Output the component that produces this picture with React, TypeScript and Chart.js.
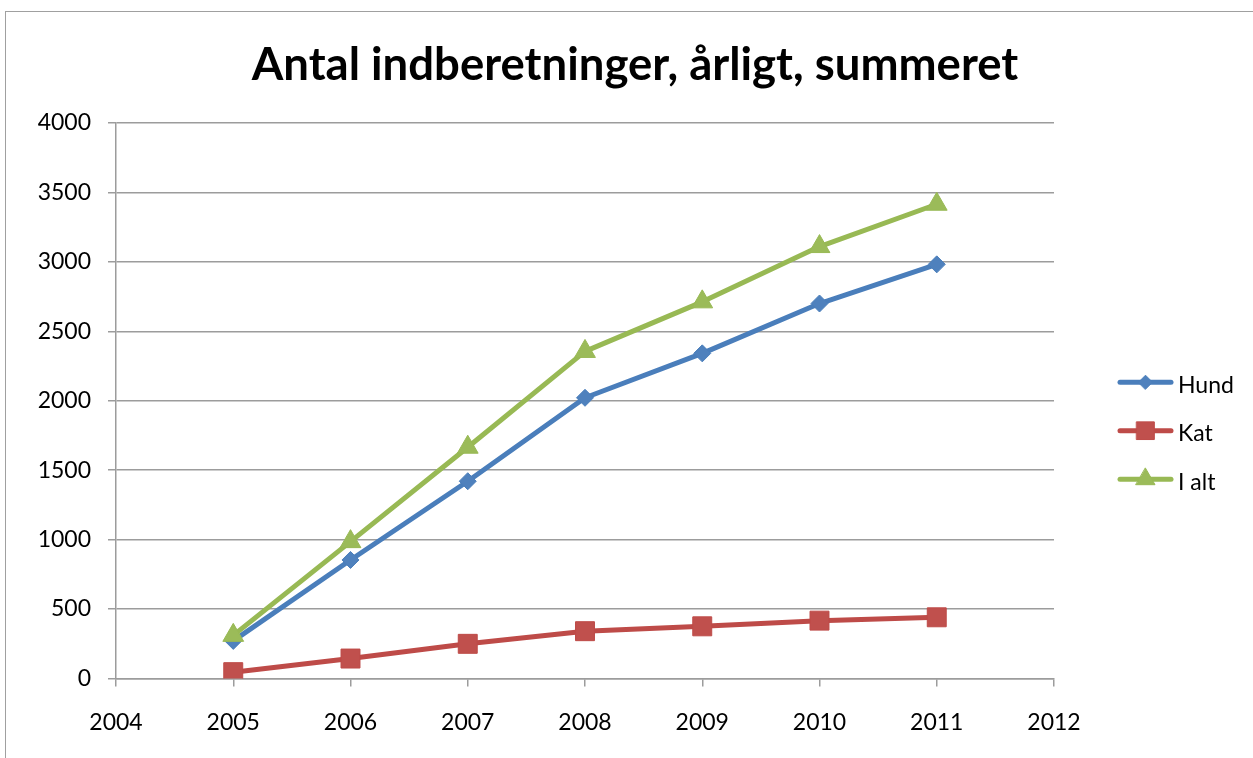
import React, { useEffect, useRef } from 'react';
import { Chart, registerables } from 'chart.js';
import { drawPoint } from 'chart.js/helpers';

Chart.register(...registerables);

const chartTitle = 'Antal indberetninger, årligt, summeret';
const years = [2005, 2006, 2007, 2008, 2009, 2010, 2011];
const hund = [270, 853, 1420, 2021, 2341, 2700, 2982];
const kat = [45, 143, 249, 340, 375, 416, 440];
const iAlt = [310, 985, 1665, 2355, 2712, 3110, 3415];
const seriesNames = ['Hund', 'Kat', 'I alt'];
const xMin = 2004;
const xMax = 2012;
const xStep = 1;
const yMin = 0;
const yMax = 4000;
const yStep = 500;

const FONT = 'Lato, "Open Sans", "Liberation Sans", sans-serif';
const GRID = '#9c9c9c';

const excelLegend = {
  id: 'excelLegend',
  afterDraw(chart: any) {
    const { ctx, chartArea } = chart;
    const cy = (chartArea.top + chartArea.bottom) / 2 + 30;
    const gap = 48.5;
    const n = chart.data.datasets.length;
    const x0 = chartArea.right + 64;
    const x1 = x0 + 55;
    ctx.save();
    chart.data.datasets.forEach((ds: any, i: number) => {
      const y = cy + (i - (n - 1) / 2) * gap;
      ctx.strokeStyle = ds.borderColor;
      ctx.lineWidth = 5;
      ctx.lineCap = 'round';
      ctx.beginPath();
      ctx.moveTo(x0 + 2, y);
      ctx.lineTo(x1 - 2, y);
      ctx.stroke();
      ctx.fillStyle = ds.pointBackgroundColor;
      ctx.strokeStyle = ds.pointBorderColor;
      ctx.lineWidth = 1;
      drawPoint(
        ctx,
        { pointStyle: ds.pointStyle, radius: ds.legendRadius, rotation: 0, borderWidth: 1 } as any,
        (x0 + x1) / 2,
        y
      );
      ctx.fillStyle = '#000';
      ctx.font = '23px ' + FONT;
      ctx.textBaseline = 'middle';
      ctx.textAlign = 'left';
      ctx.fillText(ds.label, x1 + 5, y + 3);
    });
    ctx.restore();
  },
};

export default function App() {
  const ref = useRef<HTMLCanvasElement | null>(null);

  useEffect(() => {
    if (!ref.current) return;
    const toPts = (vals: number[]) => years.map((yr, i) => ({ x: yr, y: vals[i] }));
    const chart = new Chart(ref.current, {
      type: 'line',
      data: {
        datasets: [
          {
            label: seriesNames[0],
            data: toPts(hund),
            borderColor: '#4A7EBB',
            backgroundColor: '#4F81BD',
            pointBackgroundColor: '#4F81BD',
            pointBorderColor: '#4A7EBB',
            pointStyle: 'rectRot',
            pointRadius: 8.5,
            legendRadius: 7,
            pointBorderWidth: 1,
            borderWidth: 5,
            borderCapStyle: 'round',
            borderJoinStyle: 'round',
            order: 2,
          } as any,
          {
            label: seriesNames[1],
            data: toPts(kat),
            borderColor: '#BE4B48',
            backgroundColor: '#C0504D',
            pointBackgroundColor: '#C0504D',
            pointBorderColor: '#BE4B48',
            pointStyle: 'rect',
            pointRadius: 13.4,
            legendRadius: 12.5,
            pointBorderWidth: 1,
            borderWidth: 5,
            borderCapStyle: 'round',
            borderJoinStyle: 'round',
            order: 1,
          } as any,
          {
            label: seriesNames[2],
            data: toPts(iAlt),
            borderColor: '#98B954',
            backgroundColor: '#9BBB59',
            pointBackgroundColor: '#9BBB59',
            pointBorderColor: '#98B954',
            pointStyle: 'triangle',
            pointRadius: 12,
            legendRadius: 11,
            pointBorderWidth: 1,
            borderWidth: 5,
            borderCapStyle: 'round',
            borderJoinStyle: 'round',
            order: 0,
          } as any,
        ],
      },
      options: {
        animation: false,
        responsive: false,
        layout: { padding: { left: 38, right: 21, top: 0, bottom: 0 } },
        plugins: {
          legend: { display: false },
          tooltip: { enabled: false },
          title: {
            display: true,
            text: chartTitle,
            color: '#000',
            font: { family: FONT, size: 45.5, weight: 'bold' },
            padding: { top: 38.5, bottom: 29.9 },
          },
        },
        scales: {
          x: {
            type: 'linear',
            min: xMin,
            max: xMax,
            ticks: {
              stepSize: xStep,
              color: '#000',
              font: { family: FONT, size: 23 },
              padding: 22,
              callback: (v: any) => String(v),
              maxRotation: 0,
            },
            grid: { drawOnChartArea: false, drawTicks: true, tickLength: 8, color: GRID, lineWidth: 1.5 },
            border: { display: true, color: GRID, width: 1.5 },
          },
          y: {
            type: 'linear',
            min: yMin,
            max: yMax,
            ticks: {
              stepSize: yStep,
              color: '#000',
              font: { family: FONT, size: 23 },
              padding: 17,
              callback: (v: any) => String(v),
            },
            grid: { color: GRID, lineWidth: 1.5, tickLength: 8 },
            border: { display: true, color: GRID, width: 1.5 },
            afterFit: (s: any) => {
              s.width = 78;
            },
          },
          legendSpace: {
            type: 'linear',
            position: 'right',
            display: true,
            grid: { display: false },
            ticks: { display: false },
            border: { display: false },
            afterFit: (s: any) => {
              s.width = 178;
            },
          },
        },
      } as any,
      plugins: [excelLegend],
    });
    return () => chart.destroy();
  }, []);

  return (
    <div
      style={{
        position: 'fixed',
        left: 0,
        top: 0,
        width: 1253,
        height: 758,
        overflow: 'hidden',
        background: '#fff',
      }}
    >
      <div
        style={{
          position: 'absolute',
          left: 5,
          top: 11,
          width: 1400,
          height: 900,
          borderLeft: '1.5px solid #a0a0a0',
          borderTop: '1.5px solid #a0a0a0',
        }}
      />
      <canvas
        ref={ref}
        width={1253}
        height={758}
        style={{ position: 'absolute', left: 0, top: 0, display: 'block' }}
      />
    </div>
  );
}
